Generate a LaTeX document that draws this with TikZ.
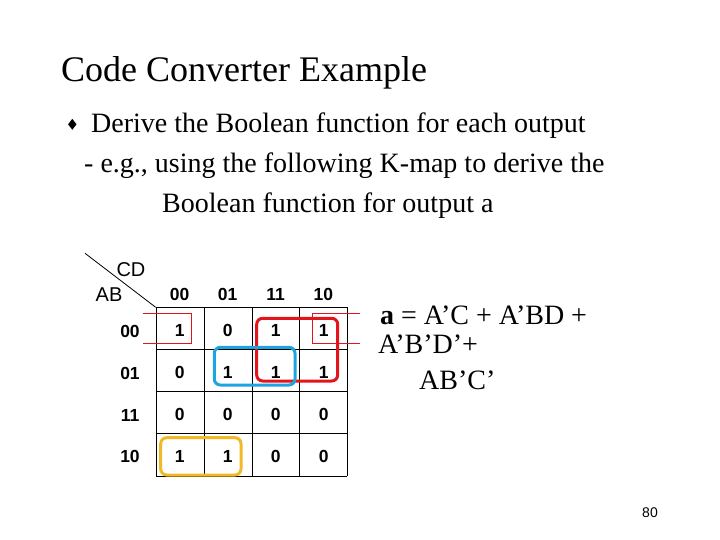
\documentclass[tikz,border=0pt]{standalone}
\usepackage{fontspec}
\setmainfont{Liberation Serif}
\setsansfont{Liberation Sans}
\usetikzlibrary{positioning}
\definecolor{LoopRed}{HTML}{E3141C}
\definecolor{LoopBlue}{HTML}{1EA4DE}
\definecolor{LoopGold}{HTML}{F1B926}

\tikzset{
  slidetext/.style={anchor=base west, inner sep=0pt, font=\fontsize{28}{32}\selectfont},
  mapbit/.style={font=\sffamily\bfseries\fontsize{17.5}{19}\selectfont, inner sep=0pt},
  maplabel/.style={font=\sffamily\fontsize{20}{22}\selectfont, inner sep=0pt},
  loop/.style={line width=3pt, rounded corners=6pt},
}

\begin{document}
\begin{tikzpicture}[x=1pt,y=-1pt]
    \useasboundingbox (0,0) rectangle (720,540);
    \node[anchor=base west, inner sep=0pt, font=\fontsize{36}{40}\selectfont] (title) at (61,82) {Code Converter Example};
    \fill (72.3,118.8) -- (76.5,124.3) -- (72.3,129.8) -- (68.1,124.3) -- cycle;
    \node[slidetext] (line1) at (91,133) {Derive the Boolean function for each output};
    \node[slidetext] (line2) at (84,173) {- e.g., using the following K-map to derive the};
    \node[slidetext] (line3) at (162,213) {Boolean function for output a};
    % K-map grid
    \foreach \x in {155.7,203.7,251.7,299.5,347.3}
      \draw[thin] (\x,307.3) -- (\x,475.7);
    \foreach \y in {307.3,349.4,391.5,433.6,475.7}
      \draw[thin] (155.7,\y) -- (347.3,\y);
    \coordinate (corner) at (155.7,307.3);
    \coordinate (slash) at (85,253.3);
    \draw[thick] (slash) -- (corner);
    \node[maplabel] (cd) at (131,269.5) {CD};
    \node[maplabel] (ab) at (109,295) {AB};
    \foreach \lab/\x [count=\c from 0] in {00/179.7,01/227.7,11/275.6,10/323.4} {
      \node[mapbit] (col\c) at (\x,294) {\lab};
    }
    \foreach \lab/\y [count=\r from 0] in {00/331,01/373,11/415,10/456.5} {
      \node[mapbit] (row\r) at (130,\y) {\lab};
    }
    \foreach \vals [count=\r from 0] in {{1,0,1,1},{0,1,1,1},{0,0,0,0},{1,1,0,0}} {
      \foreach \v [count=\c from 0] in \vals {
        \node[mapbit] (v\r\c) at (179.7+48*\c,330.5+42.1*\r) {\v};
      }
    }
    % groups
    \draw[LoopRed] (142.7,313.3) -- (191,313.3) -- (191,343.3) -- (142.7,343.3);
    \draw[LoopRed] (360,313.3) -- (311.7,313.3) -- (311.7,343.3) -- (360,343.3);
    \draw[loop, LoopRed] (256.7,318.3) rectangle (337.7,381);
    \draw[loop, LoopBlue] (214.3,347.3) rectangle (295,385);
    \draw[loop, LoopGold] (160.7,437.7) rectangle (241,475);
    % result
    \node[slidetext] (eq1) at (380,324) {\textbf{a} = A’C + A’BD +};
    \node[slidetext] (eq2) at (378,353.5) {A’B’D’+};
    \node[slidetext] (eq3) at (419,389) {AB’C’};
    \node[font=\sffamily\fontsize{14}{16}\selectfont, inner sep=0pt] (page) at (650,513) {80};
\end{tikzpicture}
\end{document}
